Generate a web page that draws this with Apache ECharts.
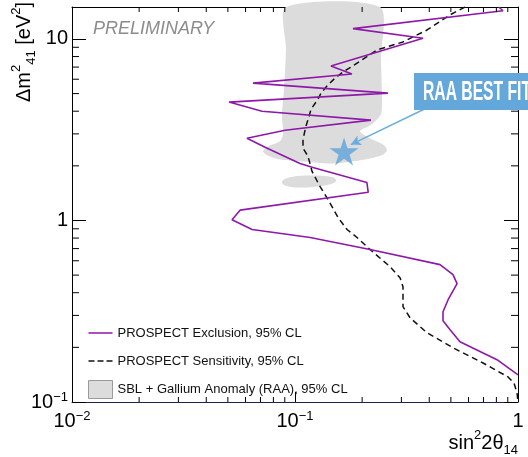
<!DOCTYPE html>
<html><head><meta charset="utf-8">
<script src="https://cdn.jsdelivr.net/npm/echarts@6/dist/echarts.min.js"></script>
<style>html,body{margin:0;padding:0;background:#fff;overflow:hidden}#c{width:528px;height:457px}.t{position:absolute;left:2000px;top:0;width:528px;height:457px}</style>
</head><body><div id="c"></div>
<script>
// ---- data ----
const X_MIN = 0.01, X_MAX = 1, Y_MIN = 0.1, Y_MAX = 15;
const seriesNames = ['PROSPECT Exclusion, 95% CL', 'PROSPECT Sensitivity, 95% CL', 'SBL + Gallium Anomaly (RAA), 95% CL'];
const exclX = [0.82,0.856,0.182,0.375,0.145,0.18,0.0648,0.261,0.0506,0.0711,0.219,0.0902,0.0609,0.0734,0.1053,0.1204,0.21,0.213,0.0567,0.0522,0.0642,0.117,0.217,0.447,0.511,0.533,0.486,0.461,0.461,0.496,0.549,0.805,1.0];
const exclY = [15,14.3,11.4,10.1,7.09,6.41,5.71,5.03,4.49,4.0,3.57,3.14,2.84,2.53,2.06,1.96,1.62,1.43,1.14,1.01,0.892,0.806,0.692,0.571,0.503,0.449,0.366,0.314,0.28,0.25,0.215,0.171,0.141];
const sensX = [0.578,0.496,0.391,0.305,0.233,0.184,0.164,0.1496,0.139,0.1308,0.1268,0.118,0.1156,0.112,0.1086,0.1086,0.1144,0.1192,0.1294,0.1406,0.1559,0.1711,0.1897,0.217,0.2667,0.2958,0.305,0.305,0.328,0.391,0.511,0.697,0.902,0.960,0.990,1.0];
const sensY = [15,13.57,11.21,9.63,8.70,7.18,6.57,6.01,5.50,5.03,4.66,4.10,3.75,3.31,2.80,2.50,2.26,1.865,1.541,1.306,1.039,0.892,0.806,0.692,0.557,0.484,0.432,0.335,0.291,0.2405,0.199,0.164,0.1374,0.127,0.112,0.1];
const raaX = [0.0911,0.2405,0.243,0.2455,0.243,0.2214,0.1957,0.2214,0.2506,0.2586,0.2455,0.206,0.148,0.1053,0.0856,0.0749,0.0719,0.0757,0.0856,0.0884,0.0874,0.0893,0.0911];
const raaY = [15,15,7.75,4.66,3.85,3.39,3.10,2.80,2.60,2.44,2.29,2.17,2.06,2.12,2.17,2.29,2.41,2.56,2.73,2.99,3.85,5.29,8.81];
const raaIslandX = [0.0874,0.095,0.1168,0.148,0.1527,0.1363,0.1053,0.0902];
const raaIslandY = [1.64,1.73,1.77,1.73,1.64,1.56,1.52,1.56];
const bestFit = [0.166, 2.4];
const arrowFrom = [0.379, 4.1];
const arrowTo = [0.178, 2.62];
const xMinorTicks = [0.02,0.03,0.04,0.05,0.06,0.07,0.08,0.09,0.2,0.3,0.4,0.5,0.6,0.7,0.8,0.9];
const yMinorTicks = [0.2,0.3,0.4,0.5,0.6,0.7,0.8,0.9,2,3,4,5,6,7,8,9];

// ---- chart ----
const FONT = '"Liberation Sans", Arial, Helvetica, sans-serif';
function fmt(v) { const e = Math.round(Math.log10(v)); if (e === 0) return '{n|1}'; if (e === 1) return '{n|10}'; return '{n|10}{s|\u2212' + (-e) + '}'; }
const labelRich = {n: {fontSize: 20, fontFamily: FONT, color: '#000', lineHeight: 22}, s: {fontSize: 13, fontFamily: FONT, color: '#000', verticalAlign: 'top', lineHeight: 13}};
function minorTickSeries(values, side, len) {
  const data = values.map(v => side === 'bottom' ? [v, Y_MIN] : side === 'top' ? [v, Y_MAX] : side === 'left' ? [X_MIN, v] : [X_MAX, v]);
  return {type: 'custom', silent: true, z: 5, data: data, renderItem: function (params, api) {
      const p = api.coord([api.value(0), api.value(1)]); let x2 = p[0], y2 = p[1];
      if (side === 'bottom') y2 -= len; else if (side === 'top') y2 += len; else if (side === 'left') x2 += len; else x2 -= len;
      return {type: 'line', shape: {x1: p[0], y1: p[1], x2: x2, y2: y2}, style: {stroke: '#000', lineWidth: 1}}; }};
}
const starPath = 'path://M0,-1L0.2245,-0.309L0.951,-0.309L0.363,0.118L0.588,0.809L0,0.382L-0.588,0.809L-0.363,0.118L-0.951,-0.309L-0.2245,-0.309Z';
const solidIcon = 'path://M0,0h0.01v0.01h-0.01zM0,8.2h24v1.6h-24zM23.99,17.99h0.01v0.01h-0.01z';
const dashIcon = 'path://M0,0h0.01v0.01h-0.01zM0,8.2h6v1.6h-6zM9,8.2h6v1.6h-6zM18,8.2h6v1.6h-6zM23.99,17.99h0.01v0.01h-0.01z';
const baseX = {type: 'log', logBase: 10, min: X_MIN, max: X_MAX, splitLine: {show: false}};
const baseY = {type: 'log', logBase: 10, min: Y_MIN, max: Y_MAX, splitLine: {show: false}};
const richT = {n: {fontSize: 20, fontFamily: FONT, fill: '#000', lineHeight: 28}, sup: {fontSize: 13, fontFamily: FONT, fill: '#000', verticalAlign: 'top', lineHeight: 13}, sub: {fontSize: 13, fontFamily: FONT, fill: '#000', verticalAlign: 'bottom', lineHeight: 13}};

function build() {
  const series = [];
  series.push({name: seriesNames[2], type: 'custom', z: 1, silent: true, itemStyle: {color: '#dcdcdc'}, data: [[0.1, 1]],
      renderItem: function (params, api) {
        return {type: 'group', children: [
          {type: 'polygon', shape: {points: raaX.map((x, i) => api.coord([x, raaY[i]])), smooth: 0.25}, style: {fill: '#dcdcdc'}},
          {type: 'polygon', shape: {points: raaIslandX.map((x, i) => api.coord([x, raaIslandY[i]])), smooth: 0.4}, style: {fill: '#dcdcdc'}}
        ]}; }});
  series.push({name: seriesNames[1], type: 'line', z: 3, symbol: 'none', silent: true, data: sensX.map((x, i) => [x, sensY[i]]), lineStyle: {color: '#111', width: 1.5, type: [6, 4]}, itemStyle: {color: '#111'}});
  series.push({name: seriesNames[0], type: 'line', z: 4, symbol: 'none', silent: true, data: exclX.map((x, i) => [x, exclY[i]]), lineStyle: {color: '#8e19a9', width: 1.6}, itemStyle: {color: '#8e19a9'}});
  series.push({name: 'RAA best fit', type: 'scatter', z: 6, silent: true, symbol: starPath, symbolSize: [29, 28], itemStyle: {color: '#5ea3da'}, data: [bestFit],
      markLine: {silent: true, symbol: ['none', 'arrow'], symbolSize: [8, 10], lineStyle: {color: '#6aaee0', width: 1.5, type: 'solid'}, label: {show: false}, data: [[{coord: arrowFrom}, {coord: arrowTo}]]}});
  series.push(minorTickSeries(xMinorTicks, 'bottom', 5), minorTickSeries(xMinorTicks, 'top', 5), minorTickSeries(yMinorTicks, 'left', 7), minorTickSeries(yMinorTicks, 'right', 7));
  return {
    animation: false, grid: {left: 72, right: 10, top: 7, bottom: 55},
    xAxis: [Object.assign({}, baseX, {position: 'bottom', axisLine: {show: true, lineStyle: {color: '#22224f', width: 1}}, axisTick: {show: true, inside: true, length: 10, lineStyle: {color: '#000'}}, axisLabel: {show: true, margin: 8, formatter: fmt, rich: labelRich}}),
            Object.assign({}, baseX, {position: 'top', axisLine: {show: true, onZero: false, lineStyle: {color: '#000', width: 1}}, axisTick: {show: true, inside: true, length: 10, lineStyle: {color: '#000'}}, axisLabel: {show: false}})],
    yAxis: [Object.assign({}, baseY, {position: 'left', axisLine: {show: true, onZero: false, lineStyle: {color: '#000', width: 1}}, axisTick: {show: true, inside: true, length: 14, lineStyle: {color: '#000'}}, axisLabel: {show: true, margin: 4, showMaxLabel: false, formatter: fmt, rich: labelRich}}),
            Object.assign({}, baseY, {position: 'right', axisLine: {show: true, onZero: false, lineStyle: {color: '#000', width: 1}}, axisTick: {show: true, inside: true, length: 14, lineStyle: {color: '#000'}}, axisLabel: {show: false}})],
    legend: {orient: 'vertical', left: 88, top: 324, padding: 0, itemGap: 10, itemWidth: 24, itemHeight: 18,
      textStyle: {fontSize: 13, fontFamily: FONT, color: '#111'},
      data: [{name: seriesNames[0], icon: solidIcon, itemStyle: {color: '#8e19a9', borderWidth: 0}},
             {name: seriesNames[1], icon: dashIcon, itemStyle: {color: '#111', borderWidth: 0}},
             {name: seriesNames[2], icon: 'rect', itemStyle: {color: '#dcdcdc', borderColor: '#9a9a9a', borderWidth: 1}}]},
    graphic: [
      {type: 'text', x: 93, y: 29, z: 100, style: {text: 'PRELIMINARY', font: 'italic 18px ' + FONT, fill: '#8c8c8c', align: 'left', verticalAlign: 'middle'}},
      {type: 'rect', z: 100, shape: {x: 414, y: 73, width: 120, height: 37}, style: {fill: '#64a7db'}},
      {type: 'text', x: 423, y: 92, z: 101, scaleX: 0.56, style: {text: 'RAA BEST FIT', font: 'bold 28px ' + FONT, fill: '#fff', align: 'left', verticalAlign: 'middle'}},
      {type: 'text', x: 24, y: 102, rotation: Math.PI / 2, z: 100, style: {text: '{n|\u0394m}{sup|2}{sub|41}{n| [eV}{sup|2}{n|]}', align: 'left', verticalAlign: 'middle', rich: richT}},
      {type: 'text', x: 518, y: 443, z: 100, style: {text: '{n|sin}{sup|2}{n|2\u03b8}{sub|14}', align: 'right', verticalAlign: 'middle', rich: richT}}
    ],
    series: series
  };
}
// warm-up instance offscreen (same setup that rendered all ticks reliably)
try { const d = document.createElement('div'); d.className = 't'; document.body.appendChild(d); echarts.init(d).setOption(build()); } catch (e) {}
const chart = echarts.init(document.getElementById('c'));
chart.setOption(build());
</script></body></html>
